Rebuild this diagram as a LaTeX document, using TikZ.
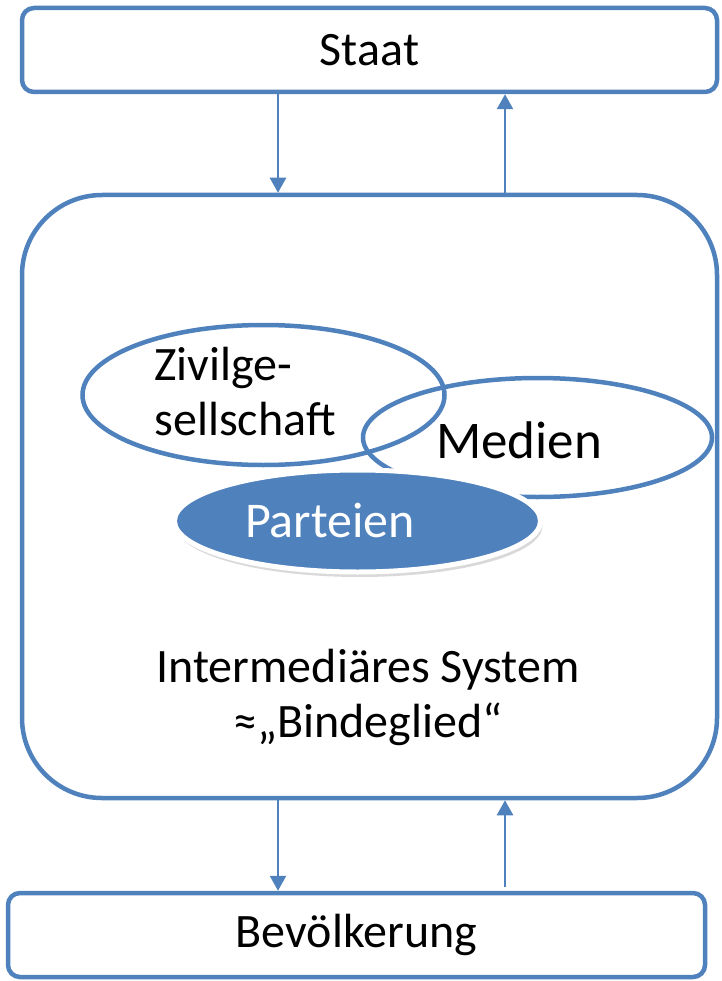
\documentclass[tikz,border=0pt]{standalone}
\usepackage{fontspec}
\setmainfont{Carlito}
\usetikzlibrary{arrows.meta,shapes.geometric,shadows}
\definecolor{officeblue}{HTML}{4F81BD}
\tikzset{
  box/.style={draw=officeblue, line width=4.5pt, rounded corners=12pt, inner sep=0pt},
  ring/.style={draw=officeblue, line width=4.5pt, ellipse, inner sep=0pt},
  flow/.style={officeblue, line width=2.5pt, -{Triangle[length=15pt,width=16pt]}},
  label/.style={font=\fontsize{48}{55}\selectfont, align=center, inner sep=0pt}
}
\begin{document}
\begin{tikzpicture}[x=1pt,y=-1pt]
    % PAGE
    \useasboundingbox (0,0) rectangle (721,981);

    % BOXES
    \node[box, minimum width=695pt, minimum height=84pt] (staat) at (369.5,50) {};
    \node[box, rounded corners=80pt, minimum width=695pt, minimum height=603pt] (system) at (369.5,496.5) {};
    \node[box, minimum width=697pt, minimum height=84pt] (volk) at (356.5,935) {};
    \node[label] (staattext) at (staat.center) {Staat};
    \node[label] (volktext) at (volk.center) {Bevölkerung};

    % ARROWS
    \coordinate (down) at (278,0);
    \coordinate (up) at (505,0);
    \draw[flow] (staat.south -| down) -- (system.north -| down);
    \draw[flow] (system.north -| up) -- (staat.south -| up);
    \draw[flow] (system.south -| down) -- (volk.north -| down);
    \draw[flow] ([yshift=4pt]volk.north -| up) -- (system.south -| up);

    % ELLIPSES
    \node[ring, minimum width=362pt, minimum height=140pt] (zivil) at (263.5,395) {};
    \node[ring, minimum width=349pt, minimum height=119pt] (medien) at (537.5,437.5) {};
    \node[ring, draw=white, line width=5pt, fill=officeblue, minimum width=366pt, minimum height=102pt,
          drop shadow={opacity=0.3, shadow xshift=2pt, shadow yshift=-5pt}] (parteien) at (357.5,521) {};
    \node[label, align=left] (ziviltext) at (245,392) {Zivilge-\\sellschaft};
    \node[label, font=\fontsize{53}{60}\selectfont] (medientext) at (519,440) {Medien};
    \node[label, text=white, font=\fontsize{50}{60}\selectfont] (parteientext) at (330,520) {Parteien};

    % SYSTEM TEXT
    \node[label] (systemtext) at (368,697) {Intermediäres System\\≈„Bindeglied“};
\end{tikzpicture}
\end{document}
